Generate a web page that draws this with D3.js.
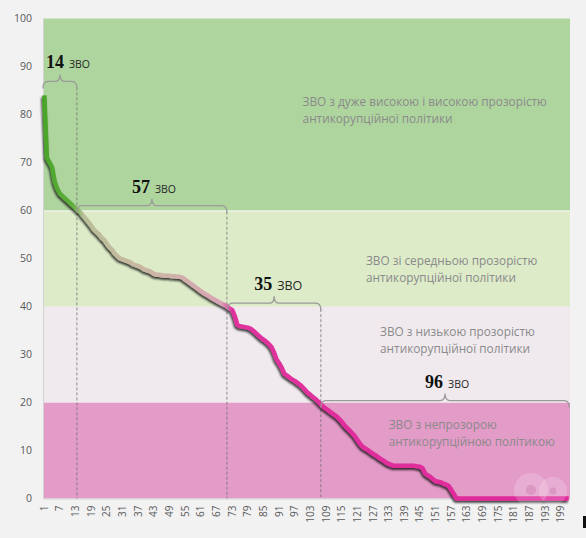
<!DOCTYPE html>
<html>
<head>
<meta charset="utf-8">
<script src="https://cdn.jsdelivr.net/npm/d3@7"></script>
<style>
  body { margin: 0; background: #f2f2f2; }
  svg { display: block; }
</style>
</head>
<body>
<script>
// ranks of the universities (1..202) and their scores
let categories = d3.range(1, 203);

let scores = [
  84, 71, 70, 69, 66, 64.5, 63.5, 63, 62.5, 62,
  61.5, 61, 60.5, 60, 59.5, 58.8, 58.2, 57.5, 56.8, 56,
  55.5, 55, 54.3, 53.8, 53, 52.3, 51.8, 51, 50.5, 50,
  49.8, 49.6, 49.4, 49.2, 48.8, 48.6, 48.4, 48.2, 47.8, 47.6,
  47.4, 47.2, 46.8, 46.6, 46.6, 46.5, 46.4, 46.4, 46.4, 46.3,
  46.3, 46.2, 46.2, 46, 45.6, 45.2, 44.8, 44.4, 44, 43.6,
  43.2, 42.8, 42.5, 42.2, 41.8, 41.5, 41.2, 40.9, 40.6, 40.3,
  40, 39.6, 39.3, 38, 36.2, 35.9, 35.8, 35.7, 35.6, 35.4,
  35, 34.5, 34, 33.5, 33.1, 32.7, 32.2, 31.6, 30.5, 29,
  28.2, 27.2, 26, 25.6, 25.2, 24.8, 24.5, 24.1, 23.7, 23.2,
  22.6, 22, 21.6, 21.1, 20.7, 20.2, 19.6, 19.1, 18.7, 18.3,
  17.9, 17.5, 17.1, 16.6, 16, 15.3, 14.7, 14.2, 13.6, 13,
  12.2, 11.4, 10.8, 10.4, 10.1, 9.7, 9.3, 9, 8.6, 8.2,
  7.9, 7.5, 7.2, 7, 6.8, 6.8, 6.8, 6.8, 6.8, 6.8,
  6.8, 6.8, 6.8, 6.7, 6.6, 6.3, 5.2, 4.8, 4.5, 4,
  3.6, 3.5, 3.4, 3.1, 2.9, 2.6, 1.8, 0.9, 0, 0,
  0, 0, 0, 0, 0, 0, 0, 0, 0, 0,
  0, 0, 0, 0, 0, 0, 0, 0, 0, 0,
  0, 0, 0, 0, 0, 0, 0, 0, 0, 0,
  0, 0, 0, 0, 0, 0, 0, 0, 0, 0,
  0, 0
];

let yTicks = [0, 10, 20, 30, 40, 50, 60, 70, 80, 90, 100];
let xTickLabels = categories.filter((d, i) => i % 6 === 0); // 1, 7, 13 ... 199

// transparency zones (score ranges)
let zoneLow  = [0, 20, 40, 60];
let zoneHigh = [20, 40, 60, 100];
let zoneColors = ['#e39bc8', '#f0eaef', '#ddebc9', '#afd59f'];
let zoneText = [
  ['ЗВО з непрозорою', 'антикорупційною політикою'],
  ['ЗВО з низькою прозорістю', 'антикорупційної політики'],
  ['ЗВО зі середньою прозорістю', 'антикорупційної політики'],
  ['ЗВО з дуже високою і високою прозорістю', 'антикорупційної політики']
];
let zoneTextAt = [[133, 14.4], [129.7, 33.9], [124.3, 48.7], [100, 81.8]]; // [rank, score]

// group counts and the brackets over them
let groupCounts = ['14', '57', '35', '96'];
let groupFrom   = [0.5, 13.5, 71.2, 107];
let groupTo     = [13.5, 71, 107, 202.2];
let groupLevel  = [86.9, 61, 40.7, 20.4];
let labelShift  = [6, 0, 0, 0];
let unitSize    = [10.5, 10.5, 12.5, 10.5];

let w = 586;
let h = 538;

let svg = d3.select('body')
            .append('svg')
            .attr('width', w)
            .attr('height', h);

let x = d3.scaleBand()
          .domain(categories)
          .range([43, 570])
          .padding(0);

// continuous version of the same axis, for the annotations
let xl = d3.scaleLinear()
           .domain([0.5, 202.5])
           .range([43, 570]);

let y = d3.scaleLinear()
          .domain([0, 100])
          .range([498.5, 18.5]);

// background zones
svg.selectAll('rect.zone')
   .data(zoneLow)
   .enter()
   .append('rect')
   .attr('class', 'zone')
   .attr('x', x.range()[0])
   .attr('width', x.range()[1] - x.range()[0])
   .attr('y', (d, i) => y(zoneHigh[i]))
   .attr('height', (d, i) => y(d) - y(zoneHigh[i]))
   .attr('fill', (d, i) => zoneColors[i]);

svg.append('line')
   .attr('x1', x.range()[0]).attr('x2', x.range()[1])
   .attr('y1', y(60) + 0.5).attr('y2', y(60) + 0.5)
   .attr('stroke', '#ffffff').attr('stroke-opacity', 0.7);

// zone captions
zoneText.forEach((lines, i) => {
  let t = svg.append('text')
             .attr('x', xl(zoneTextAt[i][0]))
             .attr('y', y(zoneTextAt[i][1]))
             .style('font-family', '"Open Sans", sans-serif')
             .style('font-size', '11.8px')
             .attr('fill', '#8a8a8a');
  lines.forEach((s, k) => {
    t.append('tspan')
     .attr('x', xl(zoneTextAt[i][0]))
     .attr('dy', k === 0 ? 0 : 17)
     .text(s);
  });
});

// axes
let yAxis = d3.axisLeft(y).tickValues(yTicks).tickSize(0).tickPadding(11);
let gy = svg.append('g')
            .attr('transform', 'translate(' + x.range()[0] + ',0)')
            .call(yAxis);
gy.select('.domain').attr('stroke', '#d4d4d4');
gy.selectAll('text')
  .style('font-family', '"Open Sans", sans-serif')
  .style('font-size', '10.5px')
  .attr('fill', '#595959');

let xAxis = d3.axisBottom(x).tickValues(xTickLabels).tickSize(0);
let gx = svg.append('g')
            .attr('transform', 'translate(0,' + y(0) + ')')
            .call(xAxis);
gx.select('.domain').attr('stroke', '#d4d4d4');
gx.selectAll('text')
  .attr('transform', 'rotate(-90)')
  .attr('x', -7)
  .attr('y', 0)
  .attr('dy', '0.35em')
  .style('text-anchor', 'end')
  .style('font-family', '"Open Sans", sans-serif')
  .style('font-size', '10px')
  .attr('fill', '#595959');

// brackets and dashed separators
let brace = (i) => {
  let x0 = xl(groupFrom[i]), x1 = xl(groupTo[i]);
  let yb = y(groupLevel[i]);
  let m = (x0 + x1) / 2;
  return 'M' + x0 + ',' + (yb + 7) +
         'Q' + x0 + ',' + yb + ' ' + (x0 + 5) + ',' + yb +
         'L' + (m - 5) + ',' + yb +
         'Q' + m + ',' + yb + ' ' + m + ',' + (yb - 7) +
         'Q' + m + ',' + yb + ' ' + (m + 5) + ',' + yb +
         'L' + (x1 - 5) + ',' + yb +
         'Q' + x1 + ',' + yb + ' ' + x1 + ',' + (yb + 7);
};

groupCounts.forEach((c, i) => {
  if (i < 3) {
    svg.append('line')
       .attr('x1', xl(groupTo[i])).attr('x2', xl(groupTo[i]))
       .attr('y1', y(groupLevel[i]) + 6).attr('y2', y(0))
       .attr('stroke', '#6e6e6e')
       .attr('stroke-opacity', 0.75)
       .attr('stroke-dasharray', '3,2');
  }
});

// score line
let defs = svg.append('defs');
let grad = defs.append('linearGradient')
               .attr('id', 'lineGrad')
               .attr('gradientUnits', 'userSpaceOnUse')
               .attr('x1', xl(0.5)).attr('x2', xl(202.5))
               .attr('y1', 0).attr('y2', 0);
let stopAt = r => (xl(r) - xl(0.5)) / (xl(202.5) - xl(0.5));
[[1, '#4aa52a'], [12, '#5fae3e'], [16, '#b9bf98'], [45, '#cdb5a5'], [69, '#d8a3b6'],
 [73, '#df329c'], [202, '#e0299a']].forEach(s => {
  grad.append('stop').attr('offset', stopAt(s[0])).attr('stop-color', s[1]);
});

let shadow = defs.append('filter')
                 .attr('id', 'shadow')
                 .attr('x', '-5%').attr('y', '-5%')
                 .attr('width', '110%').attr('height', '110%');
shadow.append('feDropShadow')
      .attr('dx', -1).attr('dy', 2)
      .attr('stdDeviation', 1)
      .attr('flood-color', '#000000')
      .attr('flood-opacity', 0.75);

let line = d3.line()
             .x((d, i) => x(categories[i]) + x.bandwidth() / 2)
             .y(d => y(d));

svg.append('path')
   .datum(scores)
   .attr('d', line)
   .attr('fill', 'none')
   .attr('stroke', 'url(#lineGrad)')
   .attr('stroke-width', 4.5)
   .attr('stroke-linejoin', 'round')
   .attr('filter', 'url(#shadow)');

// watermark
let wm = svg.append('g').attr('fill', '#ffffff');
wm.append('circle').attr('cx', 531).attr('cy', 490).attr('r', 17).attr('opacity', 0.18);
wm.append('circle').attr('cx', 553).attr('cy', 491).attr('r', 14).attr('opacity', 0.18);
wm.append('circle').attr('cx', 531).attr('cy', 490).attr('r', 5).attr('fill', '#d68cbb').attr('opacity', 0.7);
wm.append('circle').attr('cx', 553).attr('cy', 491).attr('r', 3.5).attr('fill', '#d68cbb').attr('opacity', 0.7);

groupCounts.forEach((c, i) => {
  svg.append('path')
     .attr('d', brace(i))
     .attr('fill', 'none')
     .attr('stroke', '#9a9a9a')
     .attr('stroke-width', 1.3);

  let m = (xl(groupFrom[i]) + xl(groupTo[i])) / 2 + labelShift[i];
  let yb = y(groupLevel[i]) - 13;

  svg.append('text')
     .attr('x', m - 2)
     .attr('y', yb)
     .style('text-anchor', 'end')
     .style('font-family', '"Liberation Serif", serif')
     .style('font-weight', 'bold')
     .style('font-size', '18px')
     .attr('fill', '#111111')
     .text(c);

  svg.append('text')
     .attr('x', m + 3)
     .attr('y', yb)
     .style('font-family', '"Open Sans", sans-serif')
     .style('font-size', unitSize[i] + 'px')
     .attr('fill', '#262626')
     .text('ЗВО');
});

// cut-off mark at the right edge
svg.append('rect')
   .attr('x', 583).attr('y', 516)
   .attr('width', 3).attr('height', 12)
   .attr('fill', '#111111');
</script>
</body>
</html>
